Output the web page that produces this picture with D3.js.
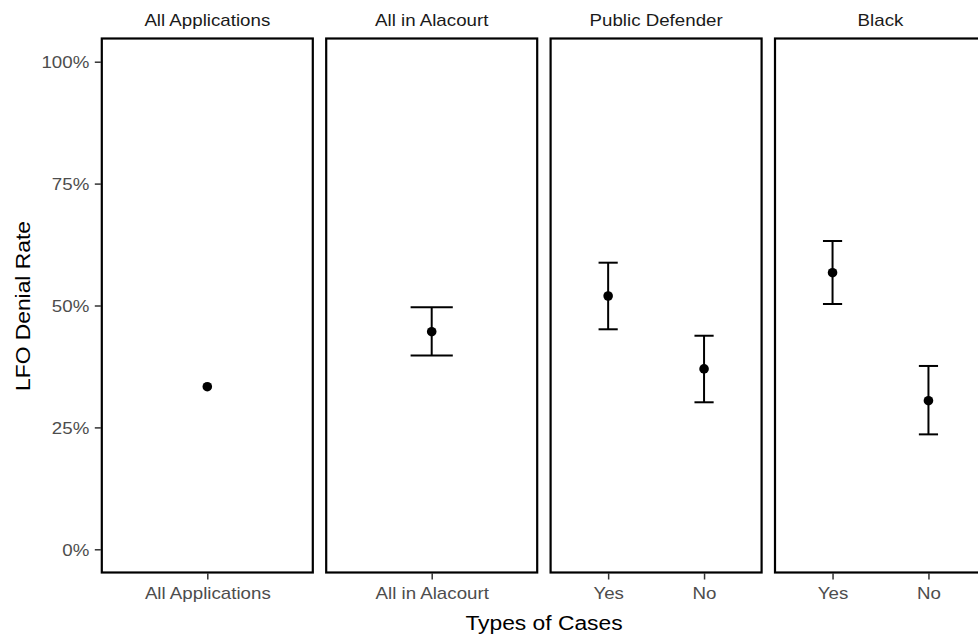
<!DOCTYPE html>
<html>
<head>
<meta charset="utf-8">
<script src="https://cdn.jsdelivr.net/npm/d3@7"></script>
<style>
  html, body { margin: 0; padding: 0; background: #fff; }
  svg { display: block; font-family: "Liberation Sans", Arial, Helvetica, sans-serif; }
</style>
</head>
<body>
<svg id="chart" width="978" height="643"></svg>
<script>
// ---------- data ----------
const panelNames = ["All Applications", "All in Alacourt", "Public Defender", "Black"];
const panelCategories = [["All Applications"], ["All in Alacourt"], ["Yes", "No"], ["Yes", "No"]];
// one entry per point
const pointPanel    = ["All Applications", "All in Alacourt", "Public Defender", "Public Defender", "Black", "Black"];
const pointCategory = ["All Applications", "All in Alacourt", "Yes", "No", "Yes", "No"];
const denialRate    = [0.3335, 0.4463, 0.5195, 0.3700, 0.5673, 0.3048];
const lowerBound    = [null,   0.3975, 0.4512, 0.3015, 0.5031, 0.2357];
const upperBound    = [null,   0.4963, 0.5878, 0.4380, 0.6323, 0.3760];
const yTickValues   = [0, 0.25, 0.5, 0.75, 1];
const xTitle = "Types of Cases";
const yTitle = "LFO Denial Rate";

// ---------- layout ----------
const svg = d3.select("#chart");
const panelLeft = 101.8, panelStep = 224.4, panelW = 211;
const panelTop = 38.5, panelBottom = 572.5;
const stretch = 1.17;  // horizontal text stretch seen in the reference

const y = d3.scaleLinear().domain([-0.0476, 1.0476]).range([panelBottom, panelTop]);

function stretchedText(g, x, yy, txt, opts) {
  const t = g.append("text")
    .attr("transform", `translate(${x},${yy}) scale(${stretch},1)`)
    .attr("text-anchor", opts.anchor || "middle")
    .attr("font-size", opts.size)
    .attr("fill", opts.fill || "#000")
    .text(txt);
  if (opts.dy) t.attr("dy", opts.dy);
  return t;
}

// y axis
const yAxis = d3.axisLeft(y).tickValues(yTickValues).tickFormat(d3.format(".0%")).tickSize(6).tickPadding(5);
const yg = svg.append("g").attr("transform", `translate(${panelLeft - 1},0)`).call(yAxis);
yg.select(".domain").remove();
yg.selectAll(".tick line").attr("stroke", "#333").attr("stroke-width", 1.5);
yg.selectAll(".tick text").each(function(d) {
  const sel = d3.select(this);
  const txt = sel.text();
  const par = d3.select(this.parentNode);
  sel.remove();
  stretchedText(par, -11.5, 0, txt, { anchor: "end", size: "16px", fill: "#4d4d4d", dy: "0.36em" });
});

panelNames.forEach((name, i) => {
  const x0 = panelLeft + i * panelStep;
  const cats = panelCategories[i];
  const x = d3.scalePoint().domain(cats).range([x0, x0 + panelW]).padding(0.6);
  const capFrac = cats.length > 1 ? 0.2 : 0.24;
  const capHalf = x.step() * capFrac / 2;

  const g = svg.append("g");

  // strip label
  stretchedText(g, x0 + panelW / 2, 26, name, { size: "16px", fill: "#1a1a1a" });

  // x axis
  const xAxis = d3.axisBottom(x).tickSize(6).tickPadding(4);
  const xg = g.append("g").attr("transform", `translate(0,${panelBottom + 1})`).call(xAxis);
  xg.select(".domain").remove();
  xg.selectAll(".tick line").attr("stroke", "#333").attr("stroke-width", 1.5);
  xg.selectAll(".tick text").each(function() {
    const sel = d3.select(this);
    const txt = sel.text();
    const par = d3.select(this.parentNode);
    sel.remove();
    stretchedText(par, 0, 25, txt, { size: "16px", fill: "#4d4d4d" });
  });

  // points of this panel
  const idx = d3.range(denialRate.length).filter(k => pointPanel[k] === name);

  // error bars
  idx.filter(k => lowerBound[k] != null).forEach(k => {
    const cx = x(pointCategory[k]);
    const eb = g.append("g").attr("stroke", "#000").attr("stroke-width", 2).attr("fill", "none");
    eb.append("line").attr("x1", cx).attr("x2", cx).attr("y1", y(lowerBound[k])).attr("y2", y(upperBound[k]));
    eb.append("line").attr("x1", cx - capHalf).attr("x2", cx + capHalf).attr("y1", y(upperBound[k])).attr("y2", y(upperBound[k]));
    eb.append("line").attr("x1", cx - capHalf).attr("x2", cx + capHalf).attr("y1", y(lowerBound[k])).attr("y2", y(lowerBound[k]));
  });

  // points
  g.selectAll("circle.pt").data(idx).join("circle")
    .attr("class", "pt")
    .attr("cx", k => x(pointCategory[k]))
    .attr("cy", k => y(denialRate[k]))
    .attr("r", 4.8)
    .attr("fill", "#000");

  // panel border
  g.append("rect")
    .attr("x", x0).attr("y", panelTop)
    .attr("width", panelW).attr("height", panelBottom - panelTop)
    .attr("fill", "none").attr("stroke", "#000").attr("stroke-width", 2.2);
});

// axis titles
stretchedText(svg, 544, 630, xTitle, { size: "19.5px", fill: "#000" });
svg.append("text")
  .attr("transform", `translate(30,306) rotate(-90) scale(${stretch},1)`)
  .attr("text-anchor", "middle")
  .attr("font-size", "19.5px")
  .attr("fill", "#000")
  .text(yTitle);
</script>
</body>
</html>
